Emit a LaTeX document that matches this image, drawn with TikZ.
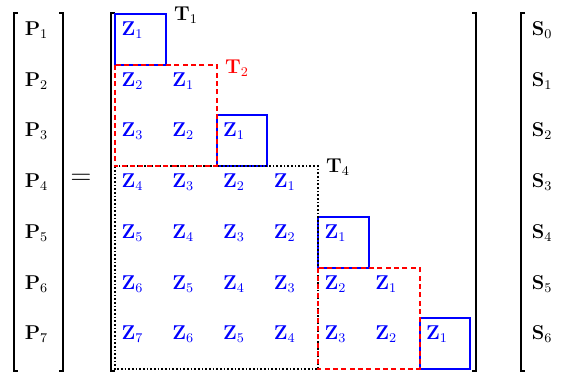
\documentclass[tikz,border=0pt]{standalone}
\begin{document}
\begin{tikzpicture}[x=0.6pt,y=-0.6pt,
  every node/.style={font=\fontsize{12}{14.5}\selectfont},
  br/.style={line width=1.2pt},
  zlab/.style={text=blue, inner sep=0pt},
  lab/.style={inner sep=0pt},
  bbox/.style={draw=blue, line width=1.2pt},
  rbox/.style={draw=red, line width=1.2pt, dash pattern=on 3pt off 2pt},
  kbox/.style={draw=black, line width=1pt, dash pattern=on 1pt off 1.2pt}]
\useasboundingbox (0,0) rectangle (570,375);
% grid coordinates
\foreach \i in {0,...,7}{
  \foreach \j in {0,...,7}{
    \coordinate (g-\i-\j) at ({115+50.75*\j},{14+50.75*\i});
  }
}
% brackets
\coordinate (pl-t) at (14,13); \coordinate (pl-b) at (14,371);
\coordinate (pr-t) at (63,13); \coordinate (pr-b) at (63,371);
\coordinate (ml-t) at (111,13); \coordinate (ml-b) at (111,371);
\coordinate (mr-t) at (476,13); \coordinate (mr-b) at (476,371);
\coordinate (sl-t) at (521,13); \coordinate (sl-b) at (521,371);
\draw[br] ([xshift=2.4pt]pl-t) -- (pl-t) -- (pl-b) -- ([xshift=2.4pt]pl-b);
\draw[br] ([xshift=-2.4pt]pr-t) -- (pr-t) -- (pr-b) -- ([xshift=-2.4pt]pr-b);
\draw[br] ([xshift=2.4pt]ml-t) -- (ml-t) -- (ml-b) -- ([xshift=2.4pt]ml-b);
\draw[br] ([xshift=-2.4pt]mr-t) -- (mr-t) -- (mr-b) -- ([xshift=-2.4pt]mr-b);
\draw[br] ([xshift=2.4pt]sl-t) -- (sl-t) -- (sl-b) -- ([xshift=2.4pt]sl-b);
% P and S labels
\foreach \i [evaluate=\i as \s using int(\i-1)] in {1,...,7}{
  \node[lab] (p\i) at (36.5,{30+50.75*(\i-1)}) {$\mathbf{P}_{\i}$};
  \node[lab] (s\s) at (542,{30+50.75*(\i-1)}) {$\mathbf{S}_{\s}$};
}
\node[lab, font=\fontsize{17}{20}\selectfont] (eq) at (81,179) {$=$};
% Z labels
\foreach \i in {1,...,7}{
  \foreach \j in {1,...,\i}{
    \pgfmathtruncatemacro{\k}{\i-\j+1}
    \node[zlab] (z-\i-\j) at ({115+50.75*(\j-1)+17.5},{14+50.75*(\i-1)+16}) {$\mathbf{Z}_{\k}$};
  }
}
% blue boxes
\draw[bbox] (g-0-0) rectangle (g-1-1);
\draw[bbox] (g-2-2) rectangle (g-3-3);
\draw[bbox] (g-4-4) rectangle (g-5-5);
\draw[bbox] (g-6-6) rectangle (g-7-7);
% dotted T4 box
\draw[kbox] (g-3-0) rectangle (g-7-4);
% red dashed T2 boxes
\draw[rbox] (g-1-0) rectangle (g-3-2);
\draw[rbox] (g-5-4) rectangle (g-7-6);
% T labels
\node[lab] (t1) at (186,15) {$\mathbf{T}_1$};
\node[lab, text=red] (t2) at (237,68) {$\mathbf{T}_2$};
\node[lab] (t4) at (338,167) {$\mathbf{T}_4$};
\end{tikzpicture}
\end{document}
